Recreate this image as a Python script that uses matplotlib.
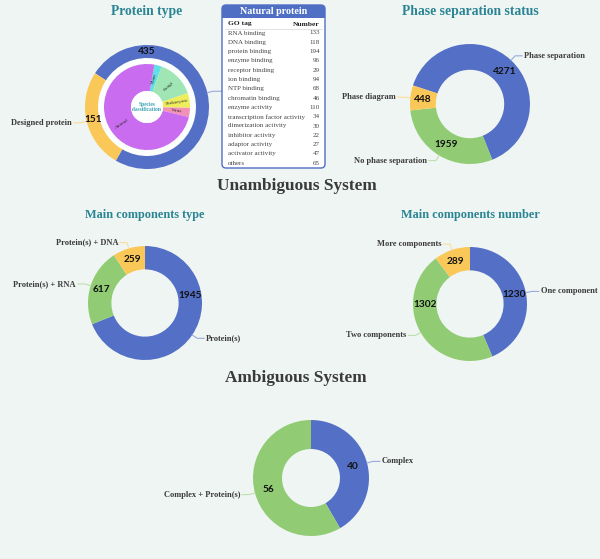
import numpy as np
import matplotlib.pyplot as plt
from matplotlib.patches import FancyBboxPatch, Rectangle, Circle

W, H = 600, 559

# ---- data ----
protein_type_labels = ['Natural protein', 'Designed protein']
protein_type_values = [435, 151]

species_labels = ['Plant', 'Fungi', 'Prokaryote', 'Virus', 'Animal']
species_values = [12, 62, 24, 15, 322]

go_tags = ['RNA binding', 'DNA binding', 'protein binding', 'enzyme binding',
           'receptor binding', 'ion binding', 'NTP binding', 'chromatin binding',
           'enzyme activity', 'transcription factor activity', 'dimerization activity',
           'inhibitor activity', 'adaptor activity', 'activator activity', 'others']
go_numbers = [133, 118, 194, 96, 29, 94, 68, 46, 110, 34, 30, 22, 27, 47, 65]

phase_labels = ['Phase separation', 'No phase separation', 'Phase diagram']
phase_values = [4271, 1959, 448]

comp_type_labels = ['Protein(s)', 'Protein(s) + RNA', 'Protein(s) + DNA']
comp_type_values = [1945, 617, 259]

comp_num_labels = ['One component', 'Two components', 'More components']
comp_num_values = [1230, 1302, 289]

amb_labels = ['Complex', 'Complex + Protein(s)']
amb_values = [40, 56]

BLUE, GREEN, YELLOW = '#5470c6', '#91cc75', '#fac858'
LINE = {BLUE: '#98a9dd', GREEN: '#bde0ac', YELLOW: '#fcdd9b'}
species_colors = ['#5fe0e6', '#9fe6b4', '#eeee5c', '#f291b6', '#c96cf0']

SERIF = 'Liberation Serif'
SANS = 'Lato'
TEAL = '#2a8493'
GRAY = '#3a3a3a'

fig = plt.figure(figsize=(6, 5.59), dpi=100, facecolor='#eff5f3')
ax = fig.add_axes([0, 0, 1, 1])
ax.set_facecolor('#eff5f3')


def Y(py):
    return H - py


def donut(cx, cy, r, ratio, values, labels, cols, start=0, val_theta=None,
          leader_end=None):
    wedges, _ = ax.pie(values, colors=cols, radius=r,
                       center=(cx, Y(cy)), startangle=90 - start,
                       counterclock=False, frame=True,
                       wedgeprops=dict(width=r * (1 - ratio), edgecolor='none'))
    vr = (r + r * ratio) / 2
    for i, w in enumerate(wedges):
        mid = np.deg2rad((w.theta1 + w.theta2) / 2)
        # value label
        a = mid
        if val_theta is not None and val_theta[i] is not None:
            a = np.deg2rad(90 - val_theta[i])
        ax.text(cx + vr * np.cos(a), Y(cy) + vr * np.sin(a), str(values[i]),
                ha='center', va='center', fontsize=7.3, fontweight='bold',
                family=SANS, color='#111111')
        # leader line + name
        side = 1 if np.cos(mid) >= 0 else -1
        x0, y0 = cx + r * np.cos(mid), Y(cy) + r * np.sin(mid)
        x1, y1 = cx + (r + 6) * np.cos(mid), Y(cy) + (r + 6) * np.sin(mid)
        lc = LINE[cols[i]]
        if leader_end is not None and leader_end[i] is not None:
            ax.plot([x0, x1, leader_end[i]], [y0, y1, y1], color=lc, lw=0.8)
            continue
        x2 = x1 + side * 7
        ax.plot([x0, x1, x2], [y0, y1, y1], color=lc, lw=0.8)
        ax.text(x2 + side * 2, y1, labels[i], ha='left' if side > 0 else 'right',
                va='center', fontsize=6.0, fontweight='bold', family=SERIF, color=GRAY)


def title(x, y, s, size=8.8, color=TEAL):
    ax.text(x, Y(y), s, ha='center', va='center', fontsize=size,
            fontweight='bold', family=SERIF, color=color)


# ---- Protein type ----
title(147, 12, 'Protein type', size=9.8)
pcx, pcy = 147, 107
ax.add_patch(Circle((pcx, Y(pcy)), 49, facecolor='white', alpha=0.85, lw=0, zorder=0))
donut(pcx, pcy, 62, 49 / 62, protein_type_values, protein_type_labels, [BLUE, YELLOW],
      start=303, val_theta=[0, None], leader_end=[222, None])
sw, _ = ax.pie(species_values, colors=species_colors, radius=43,
               center=(pcx, Y(pcy)), startangle=90 - 10, counterclock=False,
               frame=True, wedgeprops=dict(width=27, edgecolor='none'))
for i, w in enumerate(sw):
    m = (w.theta1 + w.theta2) / 2
    a = np.deg2rad(m)
    rot = m if np.cos(a) >= 0 else m + 180
    ax.text(pcx + 30 * np.cos(a), Y(pcy) + 30 * np.sin(a), species_labels[i],
            rotation=rot, rotation_mode='anchor', ha='center', va='center',
            fontsize=3.8, family=SERIF, color='#333333')
ax.add_patch(Circle((pcx, Y(pcy)), 16, facecolor='white', lw=0))
ax.text(pcx, Y(pcy), 'Species\nclassification', ha='center', va='center',
        fontsize=4.0, fontweight='bold', family=SERIF, color='#3aa0b4',
        linespacing=1.0)

# ---- GO table ----
bx, by, bw, bh = 222, 5, 103, 163
box = FancyBboxPatch((bx, Y(by + bh)), bw, bh, boxstyle='round,pad=0,rounding_size=4',
                     facecolor='white', edgecolor='#4e6fc4', lw=1, zorder=2)
ax.add_patch(box)
hdr = Rectangle((bx, Y(18)), bw, 13, facecolor='#4e6fc4', edgecolor='none', zorder=3)
ax.add_patch(hdr)
hdr.set_clip_path(box)
ax.text(bx + bw / 2, Y(11.5), 'Natural protein', ha='center', va='center', fontsize=7.2,
        fontweight='bold', family=SERIF, color='white', zorder=4)
ax.text(228, Y(23.5), 'GO tag', ha='left', va='center', fontsize=5.4, fontweight='bold',
        family=SERIF, color='#222222', zorder=4)
ax.text(320, Y(24), 'Number', ha='right', va='center', fontsize=5.4, fontweight='bold',
        family=SERIF, color='#222222', zorder=4)
ax.plot([225, 322], [Y(28.5), Y(28.5)], color='#dddddd', lw=0.6, zorder=4)
for k, (tag, num) in enumerate(zip(go_tags, go_numbers)):
    yy = 33 + k * 9.3
    ax.text(228, Y(yy), tag, ha='left', va='center', fontsize=5.05, family=SERIF,
            color='#444444', zorder=4)
    ax.text(320, Y(yy), str(num), ha='right', va='center', fontsize=5.05, family=SERIF,
            color='#444444', zorder=4)

# ---- Phase separation status ----
title(470, 11, 'Phase separation status', size=9.8)
donut(470, 104, 60, 0.57, phase_values, phase_labels, [BLUE, GREEN, YELLOW],
      start=288, val_theta=[47, None, None])

# ---- Unambiguous System ----
title(297, 186, 'Unambiguous System', size=12.4, color=GRAY)
title(145, 215, 'Main components type')
donut(145, 303, 57, 0.59, comp_type_values, comp_type_labels, [BLUE, GREEN, YELLOW],
      val_theta=[81, None, None])
title(470, 215, 'Main components number')
donut(470, 304, 57, 0.59, comp_num_values, comp_num_labels, [BLUE, GREEN, YELLOW],
      val_theta=[None, 269, None])

# ---- Ambiguous System ----
title(296, 378, 'Ambiguous System', size=12.4, color=GRAY)
donut(311, 478, 58, 0.5, amb_values, amb_labels, [BLUE, GREEN])

ax.set_xlim(0, W)
ax.set_ylim(0, H)
ax.set_aspect('equal')
ax.axis('off')
fig.savefig('out.png', dpi=100, facecolor=fig.get_facecolor())
